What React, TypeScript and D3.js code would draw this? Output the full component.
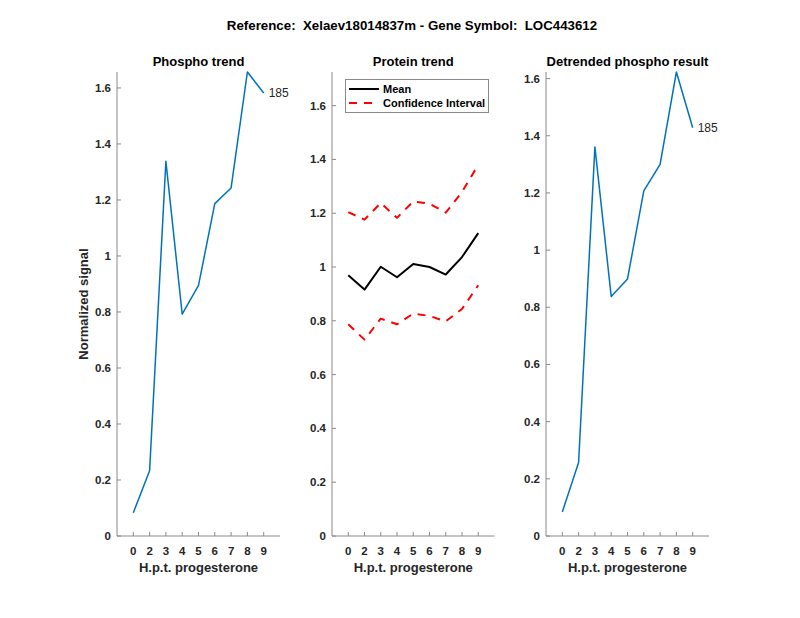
import React from "react";
import * as d3 from "d3";

const timeLabels = ["0", "2", "3", "4", "5", "6", "7", "8", "9"];
const phospho = [0.083, 0.233, 1.338, 0.792, 0.895, 1.187, 1.243, 1.657, 1.582];
const proteinMean = [0.969, 0.916, 1.001, 0.962, 1.011, 1.0, 0.972, 1.037, 1.126];
const proteinUpper = [1.204, 1.176, 1.238, 1.183, 1.244, 1.235, 1.202, 1.279, 1.38];
const proteinLower = [0.787, 0.73, 0.808, 0.787, 0.827, 0.818, 0.798, 0.844, 0.932];
const detrended = [0.084, 0.257, 1.361, 0.838, 0.899, 1.207, 1.3, 1.623, 1.428];
const yTicks = [0, 0.2, 0.4, 0.6, 0.8, 1, 1.2, 1.4, 1.6];
const peptideLabel = "185";

const FONT = "'Liberation Sans', Arial, Helvetica, sans-serif";
const TEXT = "#262626";
const AXIS = "#8a8a8a";
const BLUE = "#0072BD";

type Series = { values: number[]; color: string; width: number; dash?: string };

function Panel({
  left, right, top, bottom, ymax, title, series, label, legend, ylabel,
}: {
  left: number; right: number; top: number; bottom: number; ymax: number;
  title: string; series: Series[]; label?: boolean; legend?: boolean; ylabel?: string;
}) {
  const x = d3.scaleLinear().domain([0, timeLabels.length + 1]).range([left, right]);
  const y = d3.scaleLinear().domain([0, ymax]).range([bottom, top]);
  const line = d3.line<number>().x((_, i) => x(i + 1)).y((d) => y(d));
  const first = series[0].values;
  return (
    <g>
      <text x={(left + right) / 2} y={top - 6} textAnchor="middle" fontFamily={FONT} fontWeight="bold" fontSize={13} fill="#000">{title}</text>
      {/* axes */}
      <line x1={left} x2={right} y1={bottom} y2={bottom} stroke={AXIS} strokeWidth={1} />
      <line x1={left} x2={left} y1={top} y2={bottom} stroke={AXIS} strokeWidth={1} />
      {timeLabels.map((t, i) => (
        <g key={t}>
          <line x1={x(i + 1)} x2={x(i + 1)} y1={bottom} y2={bottom - 4} stroke={AXIS} strokeWidth={1} />
          <text x={x(i + 1)} y={bottom + 19} textAnchor="middle" fontFamily={FONT} fontWeight="bold" fontSize={11.5} fill={TEXT}>{t}</text>
        </g>
      ))}
      {yTicks.filter((v) => v <= ymax).map((v) => (
        <g key={v}>
          <line x1={left} x2={left + 4} y1={y(v)} y2={y(v)} stroke={AXIS} strokeWidth={1} />
          <text x={left - 6} y={y(v)} dy="0.35em" textAnchor="end" fontFamily={FONT} fontWeight="bold" fontSize={11.5} fill={TEXT}>{String(v)}</text>
        </g>
      ))}
      <text x={(left + right) / 2} y={bottom + 36} textAnchor="middle" fontFamily={FONT} fontWeight="bold" fontSize={13} fill={TEXT}>H.p.t. progesterone</text>
      {ylabel && (
        <text transform={`translate(${left - 29},${(top + bottom) / 2}) rotate(-90)`} textAnchor="middle" fontFamily={FONT} fontWeight="bold" fontSize={13} fill={TEXT}>{ylabel}</text>
      )}
      {series.map((s, k) => (
        <path key={k} d={line(s.values) || ""} fill="none" stroke={s.color} strokeWidth={s.width} strokeDasharray={s.dash} strokeLinejoin="round" />
      ))}
      {label && (
        <text x={x(timeLabels.length) + 5} y={y(first[first.length - 1])} dy="0.35em" fontFamily={FONT} fontSize={12} fill={TEXT}>{peptideLabel}</text>
      )}
      {legend && (
        <g>
          <rect x={left + 13.5} y={top + 7.5} width={143} height={33} fill="#fff" stroke={AXIS} strokeWidth={1} />
          <line x1={left + 17} x2={left + 47} y1={top + 17} y2={top + 17} stroke="#000" strokeWidth={2} />
          <text x={left + 51} y={top + 17} dy="0.35em" fontFamily={FONT} fontWeight="bold" fontSize={11} fill="#000">Mean</text>
          <line x1={left + 17} x2={left + 47} y1={top + 31} y2={top + 31} stroke="#ff0000" strokeWidth={2} strokeDasharray="8,7" />
          <text x={left + 51} y={top + 31} dy="0.35em" fontFamily={FONT} fontWeight="bold" fontSize={11} fill="#000">Confidence Interval</text>
        </g>
      )}
    </g>
  );
}

export default function App() {
  const top = 72;
  const bottom = 536;
  return (
    <svg width={800} height={618} style={{ display: "block", position: "absolute", left: 0, top: 0, background: "#fff" }}>
      <rect width={800} height={618} fill="#fff" />
      <text x={412} y={30} textAnchor="middle" fontFamily={FONT} fontWeight="bold" fontSize={13.3} fill="#000" style={{ whiteSpace: "pre" }}>Reference:  Xelaev18014837m - Gene Symbol:  LOC443612</text>
      <Panel left={117} right={280} top={top} bottom={bottom} ymax={1.657} title="Phospho trend"
        series={[{ values: phospho, color: BLUE, width: 1.5 }]} label ylabel="Normalized signal" />
      <Panel left={332} right={494.5} top={top} bottom={bottom} ymax={1.725} title="Protein trend" legend
        series={[
          { values: proteinMean, color: "#000", width: 2 },
          { values: proteinUpper, color: "#ff0000", width: 2, dash: "8,7" },
          { values: proteinLower, color: "#ff0000", width: 2, dash: "8,7" },
        ]} />
      <Panel left={546} right={709} top={top} bottom={bottom} ymax={1.623} title="Detrended phospho result"
        series={[{ values: detrended, color: BLUE, width: 1.5 }]} label />
    </svg>
  );
}
